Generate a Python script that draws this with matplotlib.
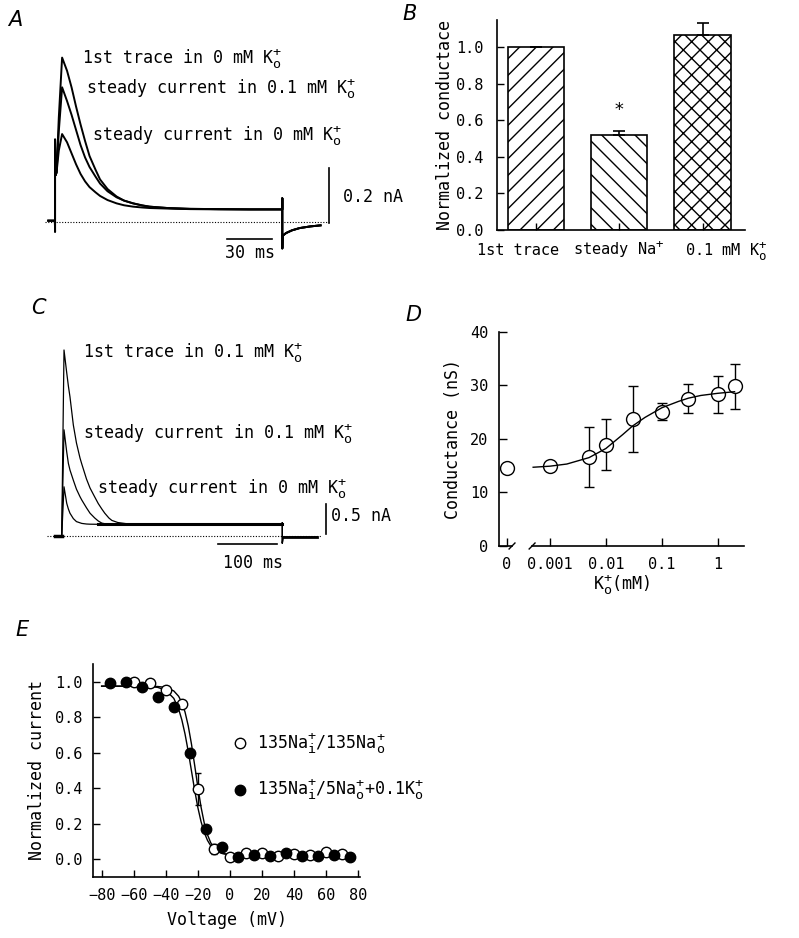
import numpy as np
import matplotlib
matplotlib.use("Agg")
import matplotlib.pyplot as plt
from matplotlib.lines import Line2D
import matplotlib._mathtext as mathtext_internals

plt.rcParams['font.family'] = ['DejaVu Sans Mono']
plt.rcParams['font.size'] = 12
plt.rcParams['xtick.labelsize'] = 11
plt.rcParams['ytick.labelsize'] = 11
plt.rcParams['mathtext.fontset'] = 'custom'
plt.rcParams['mathtext.rm'] = 'DejaVu Sans Mono'
plt.rcParams['mathtext.it'] = 'DejaVu Sans Mono:italic'
plt.rcParams['mathtext.bf'] = 'DejaVu Sans Mono:bold'
plt.rcParams['axes.linewidth'] = 1.2
plt.rcParams['hatch.linewidth'] = 1.0
# slightly larger super/subscripts, like the ion labels of the original
mathtext_internals.SHRINK_FACTOR = 0.8

KO = r"K$^{+}_{\mathrm{o}}$"

# ---- panel A: current traces (ms, nA) ----
a_onset_t = [-4.5, -0.1, 0.0, 0.0, 0.3]
a_onset_i = [0.005, 0.005, -0.035, 0.30, 0.17]
a_t = [1, 2.5, 4.7, 8, 11, 14, 17, 20, 23, 27, 30, 35, 41, 46, 52, 58, 63,
       75, 90, 110, 130, 151.5]
a_first = [0.18, 0.38, 0.598, 0.55, 0.49, 0.42, 0.355, 0.295, 0.24, 0.19,
           0.155, 0.12, 0.093, 0.078, 0.068, 0.061, 0.056, 0.051, 0.048,
           0.047, 0.046, 0.046]
a_steady01 = [0.18, 0.33, 0.49, 0.44, 0.39, 0.335, 0.28, 0.235, 0.2, 0.165,
              0.14, 0.112, 0.09, 0.078, 0.068, 0.06, 0.056, 0.051, 0.048,
              0.047, 0.046, 0.046]
a_steady0 = [0.18, 0.26, 0.32, 0.29, 0.25, 0.21, 0.175, 0.148, 0.127, 0.108,
             0.095, 0.08, 0.068, 0.061, 0.056, 0.053, 0.051, 0.049, 0.047,
             0.046, 0.046, 0.046]
a_off_t = [151.5, 151.5, 151.7, 154, 158, 163, 170, 177]
a_off_i = [0.086, -0.096, -0.05, -0.04, -0.03, -0.022, -0.016, -0.012]

# ---- panel B: normalized conductance ----
b_labels = ["1st trace", "steady Na$^{+}$", "0.1 mM " + KO]
b_values = [1.0, 0.52, 1.067]
b_err = [0.0, 0.02, 0.065]
b_hatch = ['//', '\\\\', 'xx']

# ---- panel C: current traces (ms, nA) ----
c_onset_t = [-11, 0]
c_onset_i = [0.0, 0.0]
c_t = [0, 3.9, 8.5, 11.3, 14, 19.7, 25, 31, 34, 42, 48, 56, 62, 68, 73, 80,
       85, 95, 110, 150, 200, 300, 374]
c_first = [0.0, 3.1, 2.72, 2.5, 2.32, 1.85, 1.55, 1.3, 1.2, 0.95, 0.8, 0.65,
           0.54, 0.45, 0.38, 0.3, 0.26, 0.225, 0.205, 0.2, 0.197, 0.195, 0.195]
c_steady01 = [0.0, 1.77, 1.4, 1.21, 1.1, 0.93, 0.78, 0.655, 0.6, 0.47, 0.38,
              0.3, 0.25, 0.215, 0.205, 0.2, 0.198, 0.196, 0.195, 0.195,
              0.195, 0.195, 0.195]
c_steady0 = [0.0, 0.82, 0.545, 0.45, 0.38, 0.29, 0.24, 0.22, 0.21, 0.2,
             0.197, 0.196, 0.195, 0.195, 0.195, 0.195, 0.195, 0.195, 0.195,
             0.195, 0.195, 0.195, 0.195]
c_off_t = [374, 374, 375, 432]
c_off_i = [0.22, -0.12, -0.02, -0.02]

# ---- panel D: conductance vs K+o ----
d_conc = [0, 0.001, 0.005, 0.01, 0.03, 0.1, 0.3, 1, 2]
d_g = [14.55, 14.85, 16.7, 18.9, 23.7, 25.1, 27.5, 28.3, 29.8]
d_sem = [0, 0, 5.6, 4.75, 6.1, 1.5, 2.7, 3.45, 4.25]
d_fit_conc = [0.0005, 0.001, 0.002, 0.005, 0.01, 0.02, 0.03, 0.05, 0.1, 0.2,
              0.3, 0.5, 1, 2]
d_fit_g = [14.7, 14.9, 15.3, 16.5, 18.2, 20.8, 22.4, 24.0, 25.8, 27.0, 27.6,
           28.1, 28.5, 28.8]
D_ZERO_AT = 1.7e-4   # where the "0" concentration sits on the log axis

# ---- panel E: inactivation curves ----
e_v_open = [-60, -50, -40, -30, -20, -10, 0, 10, 20, 30, 40, 50, 60, 70]
e_i_open = [0.997, 0.995, 0.953, 0.875, 0.394, 0.056, 0.011, 0.034, 0.034,
            0.015, 0.028, 0.024, 0.039, 0.03]
e_err_open = [0, 0, 0, 0, 0.09, 0.03, 0, 0, 0, 0, 0, 0, 0, 0]
e_v_filled = [-75, -65, -55, -45, -35, -25, -15, -5, 5, 15, 25, 35, 45, 55,
              65, 75]
e_i_filled = [0.995, 1.0, 0.968, 0.916, 0.86, 0.60, 0.17, 0.066, 0.01, 0.02,
              0.015, 0.034, 0.015, 0.015, 0.02, 0.011]
e_fit_v = [-80, -60, -50, -45, -40, -35, -32, -30, -28, -26, -24, -22, -20,
           -18, -16, -14, -12, -10, -8, -5, 0, 10, 40, 75]
e_fit_open = [0.975, 0.975, 0.974, 0.973, 0.968, 0.948, 0.918, 0.883, 0.829,
              0.751, 0.649, 0.529, 0.405, 0.292, 0.202, 0.137, 0.092, 0.064,
              0.047, 0.032, 0.023, 0.0204, 0.02, 0.02]
e_fit_filled = [0.975, 0.975, 0.973, 0.968, 0.952, 0.906, 0.846, 0.785,
                0.705, 0.607, 0.4975, 0.388, 0.29, 0.21, 0.149, 0.105, 0.075,
                0.0555, 0.0426, 0.0314, 0.0236, 0.0205, 0.02, 0.02]

W, H = 799, 938
fig = plt.figure(figsize=(W / 100, H / 100), dpi=100)


def px_axes(x0, y0, x1, y1):
    return fig.add_axes([x0 / W, 1 - y1 / H, (x1 - x0) / W, (y1 - y0) / H])


def letter(x, y, s):
    fig.text(x / W, 1 - y / H, s, family='DejaVu Sans', style='italic',
             fontsize=15, ha='center', va='center')


# ================= A =================
ax = px_axes(45, 40, 345, 260)
ax.set_xlim(-6.7, 193.3)
ax.set_ylim(-0.138, 0.662)
ax.axis('off')
for trace in (a_first, a_steady01, a_steady0):
    tt = a_onset_t + a_t + a_off_t
    ii = a_onset_i + trace + a_off_i
    ax.plot(tt, ii, color='k', lw=1.4)
ax.plot([-6.7, 182.7], [0, 0], color='k', lw=0.8, ls=(0, (1, 1.5)))
ax.plot([182.7, 182.7], [-0.005, 0.195], color='k', lw=1.2)
ax.plot([114.5, 144.5], [-0.062, -0.062], color='k', lw=1.2)
ax.text(192, 0.091, "0.2 nA", va='center', ha='left')
ax.text(130, -0.113, "30 ms", va='center', ha='center')
ax.text(18, 0.578, "1st trace in 0 mM " + KO, va='baseline')
ax.text(20.7, 0.468, "steady current in 0.1 mM " + KO, va='baseline')
ax.text(24.5, 0.30, "steady current in 0 mM " + KO, va='baseline')
letter(15, 20, "A")

# ================= B =================
ax = px_axes(497, 20, 745, 230)
x = np.arange(len(b_values))
ax.bar(x, b_values, width=0.675, color='white', edgecolor='k', lw=1.2,
       hatch=b_hatch)
ax.errorbar(x, b_values, yerr=[np.zeros(len(b_err)), b_err], fmt='none',
            ecolor='k', elinewidth=1.2, capsize=4.5, capthick=1.2)
ax.text(1, 0.657, "*", ha='center', va='center', fontsize=13)
ax.set_xlim(-0.47, 2.51)
ax.set_ylim(0, 1.15)
ax.set_yticks(np.arange(0, 1.01, 0.2))
ax.set_yticklabels([f"{v:.1f}" for v in np.arange(0, 1.01, 0.2)])
ax.set_xticks(x)
ax.set_xticklabels([])
ax.tick_params(direction='in', length=5, width=1.0, pad=10)
ax.tick_params(axis='x', length=5)
for s in ('top', 'right'):
    ax.spines[s].set_visible(False)
for xpos, lab in zip([-0.22, 1.0, 2.29], b_labels):
    ax.text(xpos, -0.137, lab, ha='center', va='baseline', fontsize=11)
ax.set_ylabel("Normalized conductace", labelpad=1)
letter(410, 14, "B")

# ================= C =================
ax = px_axes(40, 300, 345, 580)
ax.set_xlim(-36.8, 480.2)
ax.set_ylim(-0.733, 3.933)
ax.axis('off')
for trace in (c_first, c_steady01, c_steady0):
    tt = c_onset_t + c_t + c_off_t
    ii = c_onset_i + trace + c_off_i
    ax.plot(tt, ii, color='k', lw=0.9)
ax.plot(c_onset_t, c_onset_i, color='k', lw=2.5)
ax.plot(c_off_t[2:], c_off_i[2:], color='k', lw=2.0)
ax.plot(c_t[12:], c_steady0[12:], color='k', lw=2.2)
ax.plot([-24.9, 441], [0, 0], color='k', lw=0.8, ls=(0, (1, 1.5)))
ax.plot([448, 448], [0.033, 0.533], color='k', lw=1.2)
ax.plot([265.4, 365.4], [-0.138, -0.138], color='k', lw=1.2)
ax.text(457, 0.33, "0.5 nA", va='center', ha='left')
ax.text(324, -0.45, "100 ms", va='center', ha='center')
ax.text(35.4, 2.98, "1st trace in 0.1 mM " + KO, va='baseline')
ax.text(35.4, 1.63, "steady current in 0.1 mM " + KO, va='baseline')
ax.text(59.3, 0.71, "steady current in 0 mM " + KO, va='baseline')
letter(38, 308, "C")

# ================= D =================
ax = px_axes(499.3, 331.7, 744, 546)
conc = np.array([D_ZERO_AT if c == 0 else c for c in d_conc])
g = np.array(d_g)
sem = np.array(d_sem)
has_err = sem > 0
ax.errorbar(conc[has_err], g[has_err], yerr=sem[has_err], fmt='none',
            ecolor='k', elinewidth=1.0, capsize=3.5, capthick=1.0, zorder=2)
ax.plot(conc, g, 'o', ms=10, mfc='white', mec='k', mew=1.0, zorder=3)
ax.plot(d_fit_conc, d_fit_g, color='k', lw=1.0, zorder=4)
ax.set_xscale('log')
ax.set_xlim(1.24e-4, 2.95)
ax.set_ylim(0, 40)
ax.set_xticks([D_ZERO_AT, 0.001, 0.01, 0.1, 1])
ax.set_xticklabels(["0", "0.001", "0.01", "0.1", "1"])
ax.minorticks_off()
ax.set_yticks([0, 10, 20, 30, 40])
ax.tick_params(direction='in', length=6, width=1.0, pad=8)
for s in ('top', 'right', 'bottom'):
    ax.spines[s].set_visible(False)
f1, f2 = 0.052, 0.134
ax.plot([0, f1], [0, 0], transform=ax.transAxes, color='k', lw=1.2,
        clip_on=False)
ax.plot([f2, 1], [0, 0], transform=ax.transAxes, color='k', lw=1.2,
        clip_on=False)
for f in (f1, f2):
    ax.plot([f - 0.012, f + 0.012], [-0.014, 0.014], transform=ax.transAxes,
            color='k', lw=1.0, clip_on=False)
ax.set_ylabel("Conductance (nS)", labelpad=6)
ax.set_xlabel(KO + "(mM)", labelpad=0)
letter(413, 315, "D")

# ================= E =================
ax = px_axes(93.3, 664, 360, 876.7)
ax.errorbar(e_v_open, e_i_open, yerr=e_err_open, fmt='none', ecolor='k',
            elinewidth=1.0, capsize=2.5, capthick=1.0, zorder=2)
ax.plot(e_fit_v, e_fit_open, color='k', lw=1.0, zorder=2)
ax.plot(e_fit_v, e_fit_filled, color='k', lw=1.0, zorder=2)
ax.plot(e_v_open, e_i_open, 'o', ms=7.5, mfc='white', mec='k', mew=1.0,
        zorder=3)
ax.plot(e_v_filled, e_i_filled, 'o', ms=7.5, mfc='k', mec='k', zorder=4)
ax.set_xlim(-85.2, 81.1)
ax.set_ylim(-0.1, 1.1)
ax.set_xticks(np.arange(-80, 81, 20))
ax.set_yticks(np.arange(0, 1.01, 0.2))
ax.set_yticklabels([f"{v:.1f}" for v in np.arange(0, 1.01, 0.2)])
ax.tick_params(direction='in', length=5, width=1.0, pad=8)
for s in ('top', 'right'):
    ax.spines[s].set_visible(False)
ax.set_xlabel("Voltage (mV)", labelpad=6)
ax.set_ylabel("Normalized current", labelpad=6)
handles = [Line2D([], [], marker='o', ls='none', ms=7.5, mfc='white',
                  mec='k', mew=1.0),
           Line2D([], [], marker='o', ls='none', ms=7.5, mfc='k', mec='k')]
labels = ["135Na$^{+}_{\mathrm{i}}$/135Na$^{+}_{\mathrm{o}}$",
          "135Na$^{+}_{\mathrm{i}}$/5Na$^{+}_{\mathrm{o}}$+0.1K$^{+}_{\mathrm{o}}$"]
ax.legend(handles, labels, loc='upper left', bbox_to_anchor=(0.52, 0.685),
          frameon=False, handlelength=1.0, handletextpad=0.5,
          labelspacing=1.25, borderpad=0, borderaxespad=0)
letter(22, 630, "E")

fig.savefig("out.png", dpi=100)
